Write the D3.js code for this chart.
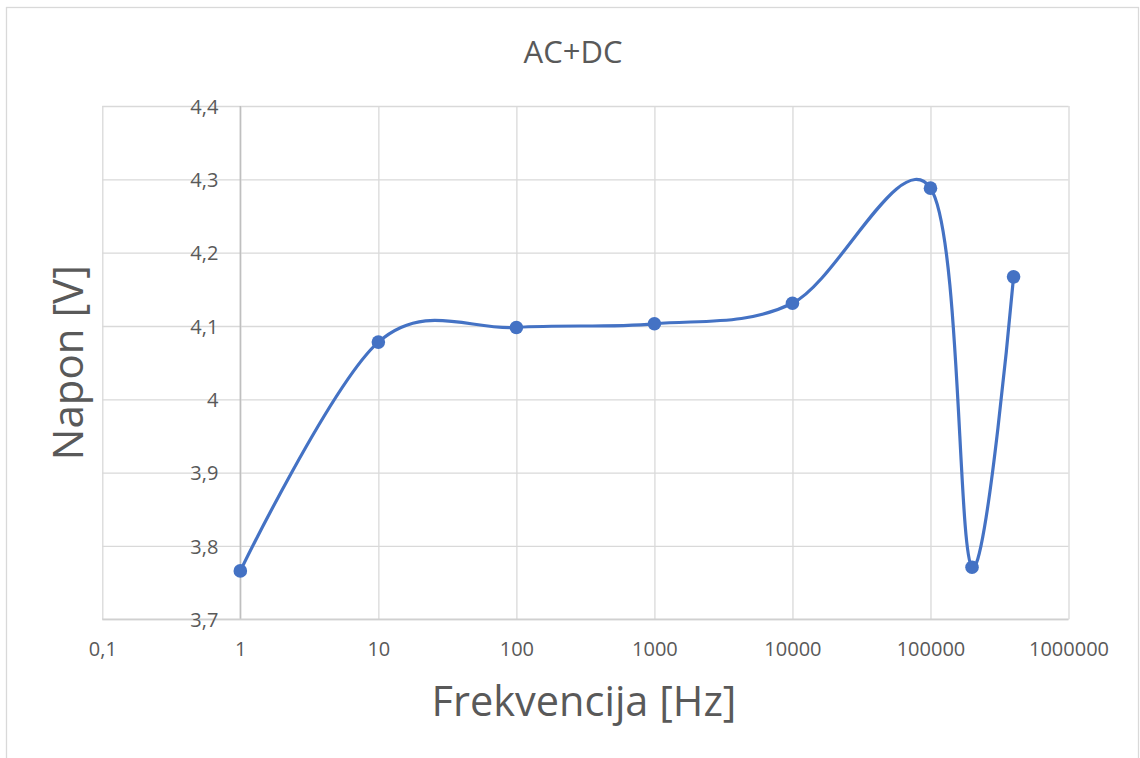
<!DOCTYPE html>
<html>
<head>
<meta charset="utf-8">
<script src="https://cdn.jsdelivr.net/npm/d3@7"></script>
<style>
  html, body { margin: 0; padding: 0; background: #ffffff; }
  svg { display: block; }
  text { font-family: "Open Sans", "Noto Sans", sans-serif; fill: #595959; }
</style>
</head>
<body>
<svg id="chart" width="1140" height="758"></svg>
<script>
// Measured AC+DC voltage versus frequency
const frequencies = [1, 10, 100, 1000, 10000, 100000, 200000, 400000];
const voltages = [3.766, 4.078, 4.098, 4.103, 4.131, 4.288, 3.771, 4.167];

// Axis ticks
const xTicks = [0.1, 1, 10, 100, 1000, 10000, 100000, 1000000];
const yTicks = [3.7, 3.8, 3.9, 4.0, 4.1, 4.2, 4.3, 4.4];

const titleText = "AC+DC";
const xTitle = "Frekvencija [Hz]";
const yTitle = "Napon [V]";

const svg = d3.select("#chart");
const plot = { left: 102.3, right: 1068.5, top: 106, bottom: 619.3 };

// Chart area frame
svg.append("rect")
  .attr("x", 6.5).attr("y", 7.5)
  .attr("width", 1132).attr("height", 770)
  .attr("fill", "#ffffff")
  .attr("stroke", "#d9d9d9").attr("stroke-width", 1.3);

const x = d3.scaleLog().domain([0.1, 1000000]).range([plot.left, plot.right]);
const y = d3.scaleLinear().domain([3.7, 4.4]).range([plot.bottom, plot.top]);

const fmtY = v => d3.format(".1~f")(v).replace(".", ",");
const fmtX = v => (v < 1 ? d3.format(".1f")(v) : d3.format("d")(v)).replace(".", ",");

// Horizontal gridlines
svg.append("g")
  .attr("transform", `translate(${plot.left},0)`)
  .call(d3.axisLeft(y).tickValues(yTicks).tickSize(-(plot.right - plot.left)).tickFormat(""))
  .call(g => g.select(".domain").remove())
  .call(g => g.selectAll("line").attr("stroke", "#d9d9d9").attr("stroke-width", 1.3));

// Vertical gridlines (one per decade)
svg.append("g")
  .attr("transform", `translate(0,${plot.top})`)
  .call(d3.axisBottom(x).tickValues(xTicks).tickSize(plot.bottom - plot.top).tickFormat(""))
  .call(g => g.select(".domain").remove())
  .call(g => g.selectAll("line").attr("stroke", "#d9d9d9").attr("stroke-width", 1.3));

// Value axis crosses at 1 Hz
const yAxisX = x(1);
svg.append("line")
  .attr("x1", yAxisX).attr("x2", yAxisX)
  .attr("y1", plot.top).attr("y2", plot.bottom)
  .attr("stroke", "#bfbfbf").attr("stroke-width", 1.5);
svg.append("line")
  .attr("x1", plot.left).attr("x2", plot.right)
  .attr("y1", plot.bottom).attr("y2", plot.bottom)
  .attr("stroke", "#d0d0d0").attr("stroke-width", 1.4);

// Y tick labels next to the crossing axis
const yLabels = svg.append("g")
  .attr("transform", `translate(${yAxisX},0)`)
  .call(d3.axisLeft(y).tickValues(yTicks).tickSize(0).tickPadding(22).tickFormat(fmtY));
yLabels.select(".domain").remove();
yLabels.selectAll("text")
  .attr("font-size", 20)
  .attr("font-family", "'Open Sans', sans-serif")
  .attr("fill", "#595959")
  .attr("dy", "0.36em");

// X tick labels
const xLabels = svg.append("g")
  .attr("transform", `translate(0,${plot.bottom})`)
  .call(d3.axisBottom(x).tickValues(xTicks).tickSize(0).tickPadding(23).tickFormat(fmtX));
xLabels.select(".domain").remove();
xLabels.selectAll("text")
  .attr("font-size", 20)
  .attr("font-family", "'Open Sans', sans-serif")
  .attr("fill", "#595959");

// Titles
svg.append("text")
  .attr("x", 573).attr("y", 63)
  .attr("text-anchor", "middle")
  .attr("font-size", 31)
  .text(titleText);

svg.append("text")
  .attr("x", 584).attr("y", 716)
  .attr("text-anchor", "middle")
  .attr("font-size", 41.5)
  .text(xTitle);

svg.append("text")
  .attr("transform", `translate(83,${(plot.top + plot.bottom) / 2}) rotate(-90)`)
  .attr("text-anchor", "middle")
  .attr("font-size", 42)
  .text(yTitle);

// Smoothed series line and markers
const pts = frequencies.map((f, i) => [x(f), y(voltages[i])]);
svg.append("path")
  .datum(pts)
  .attr("fill", "none")
  .attr("stroke", "#4472c4")
  .attr("stroke-width", 3.2)
  .attr("stroke-linejoin", "round")
  .attr("d", d3.line().curve(d3.curveCatmullRom.alpha(0)));

svg.append("g").selectAll("circle")
  .data(pts)
  .join("circle")
  .attr("cx", d => d[0]).attr("cy", d => d[1])
  .attr("r", 6.8)
  .attr("fill", "#4472c4");
</script>
</body>
</html>
